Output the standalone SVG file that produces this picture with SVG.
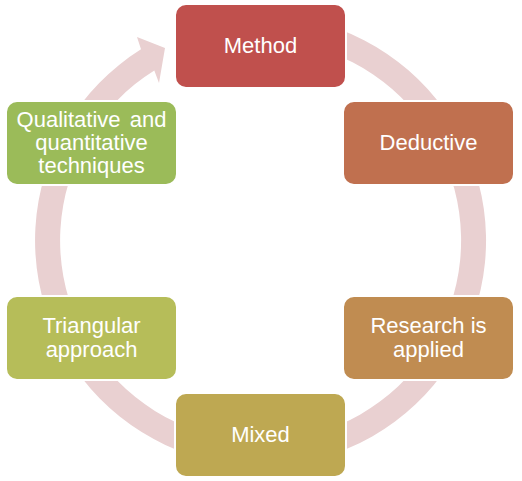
<svg xmlns="http://www.w3.org/2000/svg" width="522" height="481" viewBox="0 0 522 481">
<style>
.node rect{stroke:#fff;stroke-width:2}
.node text{font-family:"Liberation Sans",Arial,sans-serif;font-size:22px;fill:#fff;text-anchor:middle}
.ring{fill:#E9D0D1}
</style>
<rect width="522" height="481" fill="#fff"/>
<g id="connectors">
<path class="ring" d="M 260.5 15 A 225.5 225.5 0 1 1 141.0 49.3 L 137 37 L 165 48 L 159 83 L 154.3 70.5 A 200.5 200.5 0 1 0 260.5 40 Z"/>
</g>
<g id="node-method" class="node">
<rect x="175" y="4" width="171" height="84" rx="11" fill="#C0504D"/>
<text x="260.5" y="53">Method</text>
</g>
<g id="node-deductive" class="node">
<rect x="343" y="101" width="171" height="84" rx="11" fill="#C0704F"/>
<text x="428.5" y="150">Deductive</text>
</g>
<g id="node-research" class="node">
<rect x="343" y="296" width="171" height="84" rx="11" fill="#C08C51"/>
<text x="428.5" y="333">Research is</text>
<text x="428.5" y="357">applied</text>
</g>
<g id="node-mixed" class="node">
<rect x="175" y="393" width="171" height="84" rx="11" fill="#BEA852"/>
<text x="260.5" y="442">Mixed</text>
</g>
<g id="node-triangular" class="node">
<rect x="6" y="296" width="171" height="84" rx="11" fill="#B6BD59"/>
<text x="91.5" y="333">Triangular</text>
<text x="91.5" y="357">approach</text>
</g>
<g id="node-qualitative" class="node">
<rect x="6" y="101" width="171" height="84" rx="11" fill="#9BBB59"/>
<text x="91.5" y="127" word-spacing="3">Qualitative and</text>
<text x="91.5" y="150">quantitative</text>
<text x="91.5" y="173">techniques</text>
</g>
</svg>
